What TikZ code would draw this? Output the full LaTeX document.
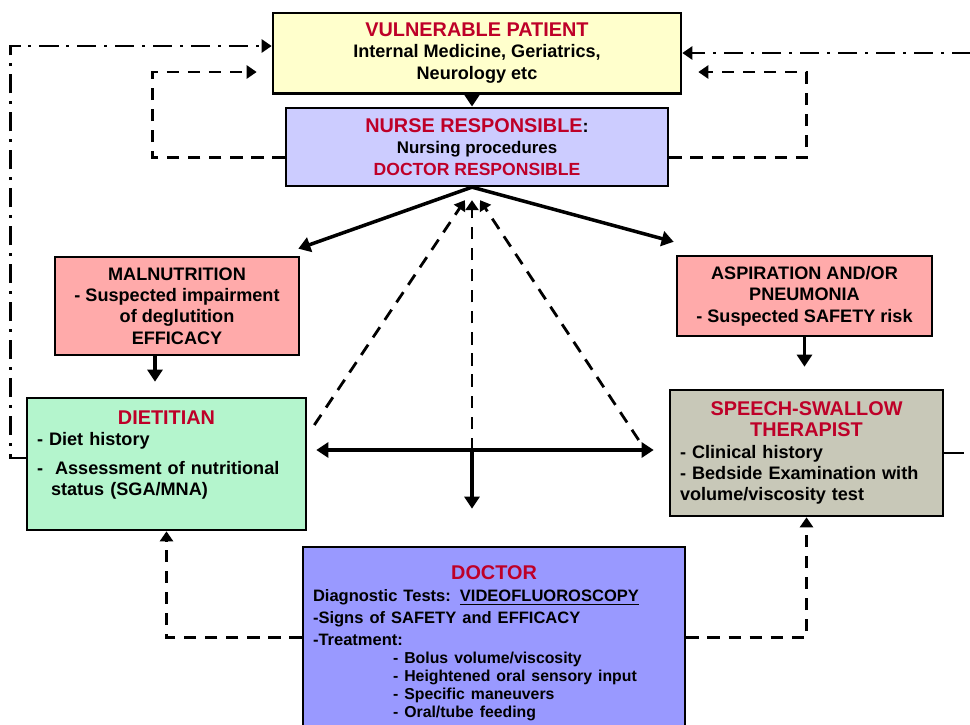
\documentclass[tikz,border=0pt]{standalone}
\usepackage{fontspec}
\setmainfont{Liberation Sans}
\usepackage{xcolor}
\usetikzlibrary{arrows.meta,positioning,calc}
\definecolor{ttlred}{RGB}{190,0,40}
\definecolor{vpfill}{RGB}{255,255,204}
\definecolor{nrfill}{RGB}{204,204,255}
\definecolor{riskfill}{RGB}{255,170,170}
\definecolor{dtfill}{RGB}{180,245,205}
\definecolor{stfill}{RGB}{200,200,184}
\definecolor{drfill}{RGB}{153,153,255}
\newcommand{\ttl}[1]{{\fontsize{11.3}{13}\selectfont\color{ttlred}#1}}

\begin{document}
\begin{tikzpicture}[>={Triangle[length=2.4mm,width=3mm]},
  box/.style={draw,line width=1.5pt,align=center,inner sep=2mm,
    font=\fontsize{10.3}{12.2}\selectfont\bfseries},
  sol/.style={->,line width=2pt},
  dsh/.style={->,line width=1.6pt,dash pattern=on 7pt off 5pt,
    >={Triangle[length=2mm,width=2.6mm]}},
  dd/.style={->,line width=1.6pt,dash pattern=on 11pt off 4.5pt on 1.6pt off 4.5pt,
    >={Triangle[length=2mm,width=2.6mm]}}]
  \useasboundingbox (0,0) rectangle (19.4,-14.48);
  \node[box,fill=vpfill,minimum width=8.16cm,minimum height=1.6cm] (vp) at (9.54,-1.06)
    {\ttl{VULNERABLE PATIENT}\\Internal Medicine, Geriatrics,\\Neurology etc};
  \node[box,fill=nrfill,minimum width=7.64cm,minimum height=1.56cm,below=2.4mm of vp] (nr)
    {\ttl{NURSE RESPONSIBLE}:\\{\fontsize{9.6}{12}\selectfont Nursing procedures}\\
     {\fontsize{10}{12}\selectfont\color{ttlred}DOCTOR RESPONSIBLE}};
  \node[box,fill=riskfill,minimum width=4.88cm,minimum height=1.96cm] (mal) at (3.54,-6.12)
    {MALNUTRITION\\- Suspected impairment\\of deglutition\\EFFICACY};
  \node[box,fill=riskfill,minimum width=5.1cm,minimum height=1.56cm] (asp) at (16.09,-5.92)
    {ASPIRATION AND/OR\\PNEUMONIA\\- Suspected SAFETY risk};
  \node[box,fill=dtfill,align=left,text width=5.18cm,minimum height=2.64cm] (diet) at (3.33,-9.28)
    {\centerline{\ttl{DIETITIAN}}
     - Diet history\\[4pt]
     -\ \ Assessment of nutritional\\
     \hspace*{2.8mm}status (SGA/MNA)\par\null};
  \node[box,fill=stfill,align=left,text width=5.06cm,minimum height=2.52cm] (sst) at (16.13,-9.06)
    {\centerline{\ttl{SPEECH-SWALLOW}}
     \centerline{\ttl{THERAPIST}}
     - Clinical history\\
     - Bedside Examination with\\
     volume/viscosity test};
  \node[box,fill=drfill,align=left,text width=7.24cm,minimum height=3.86cm] (doc) at (9.88,-12.87)
    {\centerline{\ttl{DOCTOR}}
     {\fontsize{9.4}{12.5}\selectfont
     Diagnostic Tests: \underline{VIDEOFLUOROSCOPY}\\
     -Signs of SAFETY and EFFICACY\\
     -Treatment:\par}
     {\fontsize{9}{10.3}\selectfont
     \hspace*{1.6cm}- Bolus volume/viscosity\\
     \hspace*{1.6cm}- Heightened oral sensory input\\
     \hspace*{1.6cm}- Specific maneuvers\\
     \hspace*{1.6cm}- Oral/tube feeding\par}};
  \coordinate (hub) at (9.44,-9.0);
  \coordinate (top) at (hub |- nr.south);
  \coordinate (m) at ([xshift=-4.4mm]mal.south);
  \draw[sol] (vp.south -| hub) -- (nr.north -| hub);
  \draw[sol] (top) -- ($(mal.north east)+(-0.04,0.14)$);
  \draw[sol] (top) -- ($(asp.north west)+(-0.04,0.26)$);
  \draw[dsh] ($(diet.east)+(0.14,0.78)$) -- ($(top)+(-0.14,-0.26)$);
  \draw[dsh] (hub) -- ($(top)+(0,-0.26)$);
  \draw[dsh] ($(sst.west)+(-0.6,0.26)$) -- ($(top)+(0.16,-0.26)$);
  \draw[sol,<->,shorten <=1.8mm,shorten >=3mm] (diet.east |- hub) -- (sst.west |- hub);
  \draw[sol,shorten >=7.4mm] (hub) -- (hub |- doc.north);
  \draw[sol,shorten >=3mm] (m) -- (m |- diet.north);
  \draw[sol,shorten >=4.4mm] (asp.south) -- (asp.south |- sst.north);
  \draw[dsh] ([yshift=1.2mm]doc.west) -| (diet.south);
  \draw[dsh] ([yshift=1.2mm]doc.east) -| (sst.south);
  \draw[dsh] ([yshift=-2.2mm]nr.west) -- ++(-2.64,0) |- ([xshift=-3mm,yshift=-3.8mm]vp.west);
  \draw[dsh] ([yshift=-2.2mm]nr.east) -- ++(2.74,0) |- ([xshift=3.2mm,yshift=-3.8mm]vp.east);
  \draw[dd] ([yshift=1.2mm]diet.west) -- ++(-0.3,0) |- ([yshift=1.4mm]vp.west);
  \draw[dd] (sst.east) -- ++(1.2,0) |- (vp.east);
\end{tikzpicture}
\end{document}
